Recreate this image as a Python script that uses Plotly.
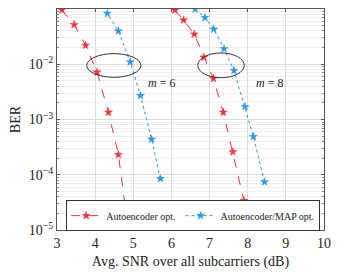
import plotly.graph_objects as go

# Autoencoder opt. (m=6 and m=8)
ae6_snr = [3.13, 3.45, 3.75, 4.05, 4.35, 4.61, 4.92]
ae6_ber = [0.096, 0.052, 0.022, 0.0072, 1.35e-3, 2.3e-4, 5.5e-6]
ae8_snr = [6.09, 6.32, 6.60, 6.85, 7.10, 7.36, 7.61, 7.90]
ae8_ber = [0.095, 0.063, 0.035, 0.0134, 0.0055, 1.35e-3, 2.6e-4, 3.4e-5]

# Autoencoder/MAP opt. (m=6 and m=8)
map6_snr = [4.03, 4.32, 4.61, 4.92, 5.19, 5.48, 5.71]
map6_ber = [0.17, 0.083, 0.040, 0.011, 2.7e-3, 4.4e-4, 8.5e-5]
map8_snr = [6.62, 6.88, 7.11, 7.38, 7.64, 7.93, 8.15, 8.44]
map8_ber = [0.10, 0.070, 0.043, 0.019, 0.0077, 1.7e-3, 4.9e-4, 7.4e-5]

x_ticks = [3, 4, 5, 6, 7, 8, 9, 10]
y_ticks = [1e-5, 1e-4, 1e-3, 1e-2, 1e-1]
y_ticktext = ["10<sup>−5</sup>", "10<sup>−4</sup>", "10<sup>−3</sup>", "10<sup>−2</sup>", "10<sup>−1</sup>"]
y_minor = [m * 10.0 ** e for e in range(-5, -1) for m in range(2, 10)]

RED = "#f5333f"
BLUE = "#2e97dd"
FONT = "Liberation Serif"

fig = go.Figure()

def add(xs, ys, color, dash, name, show):
    fig.add_trace(go.Scatter(
        x=xs, y=ys, mode="lines+markers", name=name, showlegend=show,
        legendgroup=name,
        line=dict(color=color, width=1, dash=dash),
        marker=dict(symbol="star", size=6, color=color, line=dict(width=0.5, color=color)),
    ))

add(ae6_snr, ae6_ber, RED, "dash", "Autoencoder opt.", True)
add(ae8_snr, ae8_ber, RED, "dash", "Autoencoder opt.", False)
add(map6_snr, map6_ber, BLUE, "dot", "Autoencoder/MAP opt.", True)
add(map8_snr, map8_ber, BLUE, "dot", "Autoencoder/MAP opt.", False)

# ellipses marking the m=6 and m=8 groups
fig.add_shape(type="circle", xref="x", yref="y domain",
              x0=3.78, x1=5.20, y0=0.691, y1=0.798,
              line=dict(color="#333333", width=1))
fig.add_shape(type="circle", xref="x", yref="y domain",
              x0=6.69, x1=7.91, y0=0.689, y1=0.801,
              line=dict(color="#333333", width=1))

fig.add_annotation(x=5.73, y=0.707, xref="x", yref="y domain",
                   text="<i>m</i> = 6", showarrow=False,
                   font=dict(family=FONT, size=12, color="#222"))
fig.add_annotation(x=8.58, y=0.707, xref="x", yref="y domain",
                   text="<i>m</i> = 8", showarrow=False,
                   font=dict(family=FONT, size=12, color="#222"))

fig.update_layout(
    width=339, height=275,
    margin=dict(l=57, r=12, t=8, b=44),
    paper_bgcolor="white", plot_bgcolor="white",
    font=dict(family=FONT, size=13, color="#222"),
    legend=dict(
        orientation="h", x=0.51, xanchor="center", y=0.065, yanchor="middle",
        bgcolor="white", bordercolor="#333", borderwidth=1,
        font=dict(family=FONT, size=10, color="#222"),
        itemwidth=30, tracegroupgap=0,
    ),
)

fig.update_xaxes(
    range=[3, 10], tickvals=x_ticks,
    showgrid=True, gridcolor="#dddddd", gridwidth=1,
    ticks="inside", ticklen=3, tickcolor="#555",
    showline=True, linecolor="#555", linewidth=1, mirror="ticks",
    zeroline=False,
    title=dict(text="Avg. SNR over all subcarriers (dB)", font=dict(family=FONT, size=14), standoff=6),
    tickfont=dict(family=FONT, size=14),
)
fig.update_yaxes(
    type="log", range=[-5, -1], tickvals=y_ticks, ticktext=y_ticktext,
    showgrid=True, gridcolor="#dddddd", gridwidth=1,
    ticks="inside", ticklen=3, tickcolor="#555",
    showline=True, linecolor="#555", linewidth=1, mirror="ticks",
    zeroline=False,
    minor=dict(tickvals=y_minor, showgrid=True, gridcolor="#f0f0f0",
               ticks="inside", ticklen=2, tickcolor="#888"),
    title=dict(text="BER", font=dict(family=FONT, size=14), standoff=4),
    tickfont=dict(family=FONT, size=14),
)

fig.write_html("out.html", config={"displayModeBar": False},
               post_script="document.body.style.margin='0';")
